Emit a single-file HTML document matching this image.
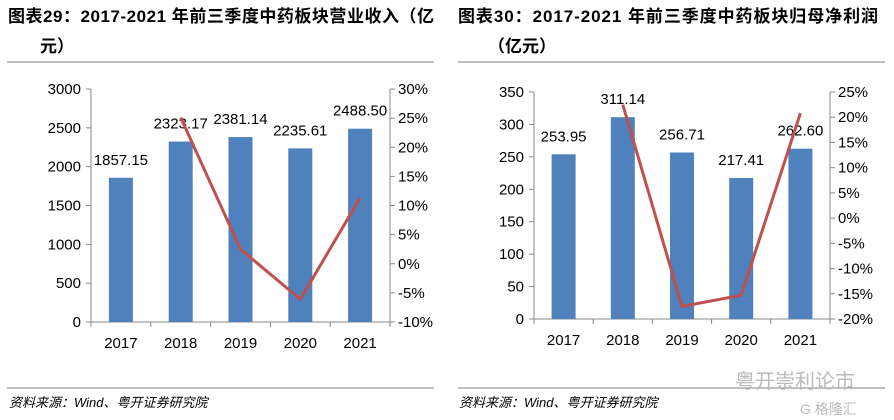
<!DOCTYPE html>
<html><head><meta charset="utf-8">
<style>
body{margin:0;background:#fff;width:894px;height:420px;overflow:hidden;font-family:"Liberation Sans","Noto Sans CJK SC",sans-serif}
svg{position:absolute;left:0;top:0}
</style></head>
<body>
<svg id="c" width="894" height="420">
<text x="8" y="22" font-size="17" font-weight="bold" fill="#000" textLength="426" lengthAdjust="spacing">图表29：2017-2021 年前三季度中药板块营业收入（亿</text>
<text x="40" y="52" font-size="17" font-weight="bold" fill="#000">元）</text>
<line x1="7" y1="62" x2="434" y2="62" stroke="#999" stroke-width="1.2"/>
<line x1="7" y1="388" x2="434" y2="388" stroke="#999" stroke-width="1.2"/>
<text x="9" y="407" font-size="13" font-style="italic" fill="#000">资料来源：Wind、粤开证券研究院</text>
<text x="458" y="22" font-size="17" font-weight="bold" fill="#000" textLength="420" lengthAdjust="spacing">图表30：2017-2021 年前三季度中药板块归母净利润</text>
<text x="488" y="52" font-size="17" font-weight="bold" fill="#000">（亿元）</text>
<line x1="458" y1="62" x2="885" y2="62" stroke="#999" stroke-width="1.2"/>
<line x1="458" y1="388" x2="885" y2="388" stroke="#999" stroke-width="1.2"/>
<text x="459" y="407" font-size="13" font-style="italic" fill="#000">资料来源：Wind、粤开证券研究院</text>
<text x="735" y="388" font-size="20" fill="#bbb">粤开崇利论市</text>
<text x="800" y="414" font-size="14" fill="#bbb">G 格隆汇</text>
</svg>
<script>
const categories=["2017","2018","2019","2020","2021"];
const revenue=[1857.15,2323.17,2381.14,2235.61,2488.50];
const revenueGrowth=[null,25.1,2.5,-6.1,11.3];
const revTicks=[0,500,1000,1500,2000,2500,3000];
const revPctTicks=[-10,-5,0,5,10,15,20,25,30];
const profit=[253.95,311.14,256.71,217.41,262.60];
const profitGrowth=[null,22.5,-17.5,-15.3,20.8];
const profTicks=[0,50,100,150,200,250,300,350];
const profPctTicks=[-20,-15,-10,-5,0,5,10,15,20,25];
const svg=document.getElementById('c');
const NS='http://www.w3.org/2000/svg';
function mk(tag,at){const e=document.createElementNS(NS,tag);for(const k in at)e.setAttribute(k,at[k]);svg.appendChild(e);return e;}
function draw(p,vals,grow,lt,rt,pfx){
  const lmin=lt[0],lmax=lt[lt.length-1],rmin=rt[0],rmax=rt[rt.length-1];
  const yL=v=>p.yb-(v-lmin)/(lmax-lmin)*(p.yb-p.yt);
  const yR=v=>p.yb-(v-rmin)/(rmax-rmin)*(p.yb-p.yt);
  const cw=(p.xr-p.xl)/categories.length;
  const xC=i=>p.xl+cw*(i+0.5);
  let e;
  e=mk('line',{x1:p.xl,y1:p.yt,x2:p.xl,y2:p.yb,stroke:'#888'});
  
  e=mk('line',{x1:p.xr,y1:p.yt,x2:p.xr,y2:p.yb,stroke:'#888'});
  
  e=mk('line',{x1:p.xl,y1:p.yb,x2:p.xr,y2:p.yb,stroke:'#888'});
  
  lt.forEach(t=>{const y=yL(t);
    mk('line',{x1:p.xl-5,y1:y,x2:p.xl,y2:y,stroke:'#888'});
    e=mk('text',{x:p.xl-10,y:y+5,'font-size':15,'text-anchor':'end',fill:'#000'});e.textContent=t;
    });
  rt.forEach(t=>{const y=yR(t);
    mk('line',{x1:p.xr,y1:y,x2:p.xr+5,y2:y,stroke:'#888'});
    e=mk('text',{x:p.xr+8,y:y+5,'font-size':15,fill:'#000'});e.textContent=t+'%';
    });
  for(let i=0;i<=categories.length;i++){mk('line',{x1:p.xl+cw*i,y1:p.yb,x2:p.xl+cw*i,y2:p.yb+5,stroke:'#888'});}
  categories.forEach((c,i)=>{
    const y=yL(vals[i]);
    e=mk('rect',{x:xC(i)-12,y:y,width:24,height:p.yb-y,fill:'#4f81bd'});
    
    e=mk('text',{x:xC(i),y:y-13,'font-size':15,'text-anchor':'middle',fill:'#000'});e.textContent=vals[i].toFixed(2);
    
    e=mk('text',{x:xC(i),y:p.yb+26,'font-size':15,'text-anchor':'middle',fill:'#000'});e.textContent=c;
    
  });
  const pts=[];grow.forEach((g,i)=>{if(g!==null)pts.push(xC(i)+','+yR(g));});
  e=mk('polyline',{points:pts.join(' '),fill:'none',stroke:'#c0504d','stroke-width':3,'stroke-linejoin':'round'});
  
}
draw({xl:91,xr:390,yt:89,yb:322},revenue,revenueGrowth,revTicks,revPctTicks,'revenue');
draw({xl:534,xr:830,yt:92,yb:319},profit,profitGrowth,profTicks,profPctTicks,'profit');
</script>
</body></html>
